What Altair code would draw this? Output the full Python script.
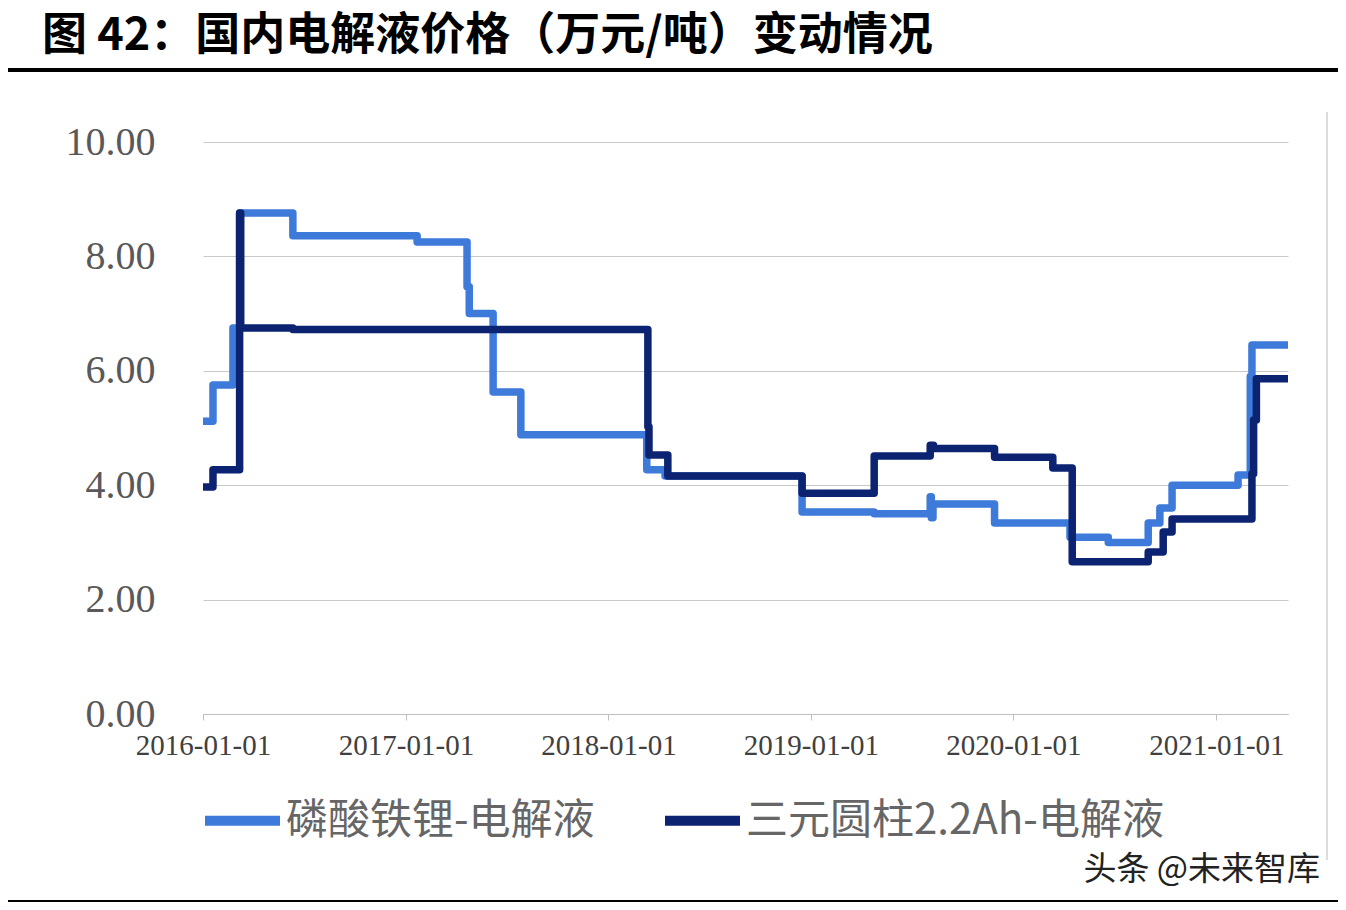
import altair as alt
import pandas as pd

# ---- data ----
lfp_dates = ["2016-01-01", "2016-01-19", "2016-02-24", "2016-03-07", "2016-06-11",
             "2017-01-21", "2017-04-21", "2017-04-25", "2017-06-07", "2017-07-27",
             "2018-03-11", "2018-04-13", "2018-12-16", "2019-04-25", "2019-08-04",
             "2019-08-06", "2019-08-09", "2019-11-28", "2020-04-12", "2020-06-20",
             "2020-08-31", "2020-09-21", "2020-10-13", "2021-02-09", "2021-03-03",
             "2021-03-06", "2021-05-10"]
lfp_values = [5.12, 5.75, 6.75, 8.76, 8.36,
              8.25, 7.47, 7.00, 5.63, 4.88,
              4.27, 4.16, 3.53, 3.50, 3.80,
              3.43, 3.67, 3.34, 3.09, 3.00,
              3.34, 3.60, 4.00, 4.18, 5.90,
              6.45, 6.45]

ncm_dates = ["2016-01-01", "2016-01-19", "2016-03-07", "2016-03-09", "2016-06-11",
             "2018-03-13", "2018-03-15", "2018-04-18", "2018-12-16", "2019-04-25",
             "2019-08-04", "2019-08-10", "2019-11-28", "2020-03-12", "2020-04-16",
             "2020-08-31", "2020-09-27", "2020-10-13", "2021-03-06", "2021-03-09",
             "2021-03-14", "2021-05-10"]
ncm_values = [3.97, 4.27, 8.76, 6.75, 6.72,
              5.02, 4.53, 4.16, 3.86, 4.51,
              4.70, 4.64, 4.49, 4.30, 2.66,
              2.83, 3.18, 3.41, 4.20, 5.14,
              5.86, 5.86]

series_names = ["磷酸铁锂-电解液", "三元圆柱2.2Ah-电解液"]
series_colors = ["#3d7ad9", "#0b2371"]
year_ticks = [2016, 2017, 2018, 2019, 2020, 2021]
y_ticks = [0, 2, 4, 6, 8, 10]
x_domain = ["2016-01-01", "2021-05-10"]
title_text = "图 42：国内电解液价格（万元/吨）变动情况"
watermark_text = "头条 @未来智库"

df = pd.DataFrame({
    "date": lfp_dates + ncm_dates,
    "value": lfp_values + ncm_values,
    "series": [series_names[0]] * len(lfp_dates) + [series_names[1]] * len(ncm_dates),
})

x_enc = alt.X(
    "date:T",
    scale=alt.Scale(type="utc", domain=x_domain),
    axis=alt.Axis(
        values=[alt.DateTime(year=y, month=1, date=1, utc=True) for y in year_ticks],
        format="%Y-%m-%d", title=None, grid=False,
        labelFont="Liberation Serif", labelFontSize=29, labelColor="#404040",
        domainColor="#bfbfbf", tickColor="#bfbfbf", tickSize=6, labelPadding=11,
        labelOverlap=False, labelFlush=False,
    ),
)
y_enc = alt.Y(
    "value:Q",
    scale=alt.Scale(domain=[0, 10], nice=False),
    axis=alt.Axis(
        values=y_ticks, format=".2f", title=None, domain=False, ticks=False,
        grid=True, gridColor="#c8c8c8", gridWidth=1.2,
        labelFont="Liberation Serif", labelFontSize=40, labelColor="#595959",
        labelPadding=48,
    ),
)
color_enc = alt.Color(
    "series:N",
    scale=alt.Scale(domain=series_names, range=series_colors),
    legend=alt.Legend(
        title=None, orient="none", legendX=-3, legendY=636, direction="horizontal",
        symbolType="stroke", symbolSize=5625, symbolStrokeWidth=10,
        labelFont="Noto Sans CJK SC", labelFontSize=42, labelColor="#666666",
        labelLimit=800, labelOffset=1, columnPadding=50,
    ),
)

base = alt.Chart(df).encode(x=x_enc, y=y_enc, color=color_enc)
lfp_line = base.transform_filter(alt.datum.series == series_names[0]).mark_line(
    interpolate="step-after", strokeWidth=7.5, strokeJoin="round")
ncm_line = base.transform_filter(alt.datum.series == series_names[1]).mark_line(
    interpolate="step-after", strokeWidth=7.5, strokeJoin="round")

one = pd.DataFrame({"t": [title_text], "w": [watermark_text]})
title = alt.Chart(one).mark_text(
    align="left", baseline="alphabetic", font="Noto Sans CJK SC",
    fontSize=45, fontWeight="bold", color="black",
).encode(text="t:N", x=alt.value(-161), y=alt.value(-92))
watermark = alt.Chart(one).mark_text(
    align="right", baseline="alphabetic", font="Noto Sans CJK SC",
    fontSize=33, color="#222222",
).encode(text="w:N", x=alt.value(1117), y=alt.value(738))
top_rule = alt.Chart(one).mark_rule(color="black", strokeWidth=4).encode(
    x=alt.value(-195), x2=alt.value(1143), y=alt.value(-72))
bottom_rule = alt.Chart(one).mark_rule(color="black", strokeWidth=4).encode(
    x=alt.value(-195), x2=alt.value(1143), y=alt.value(760))
side_rule = alt.Chart(one).mark_rule(color="#d0d0d0", strokeWidth=1.5).encode(
    x=alt.value(1124), y=alt.value(-30), y2=alt.value(718))

chart = alt.layer(
    side_rule, lfp_line, ncm_line, title, watermark, top_rule, bottom_rule
).properties(
    width=1085, height=572,
    padding={"left": 195, "top": 134, "right": 50, "bottom": 188},
    autosize=alt.AutoSizeParams(type="none"),
    background="white",
).configure_view(stroke=None)

chart.save("out.html", embed_options={"renderer": "svg", "actions": False})
